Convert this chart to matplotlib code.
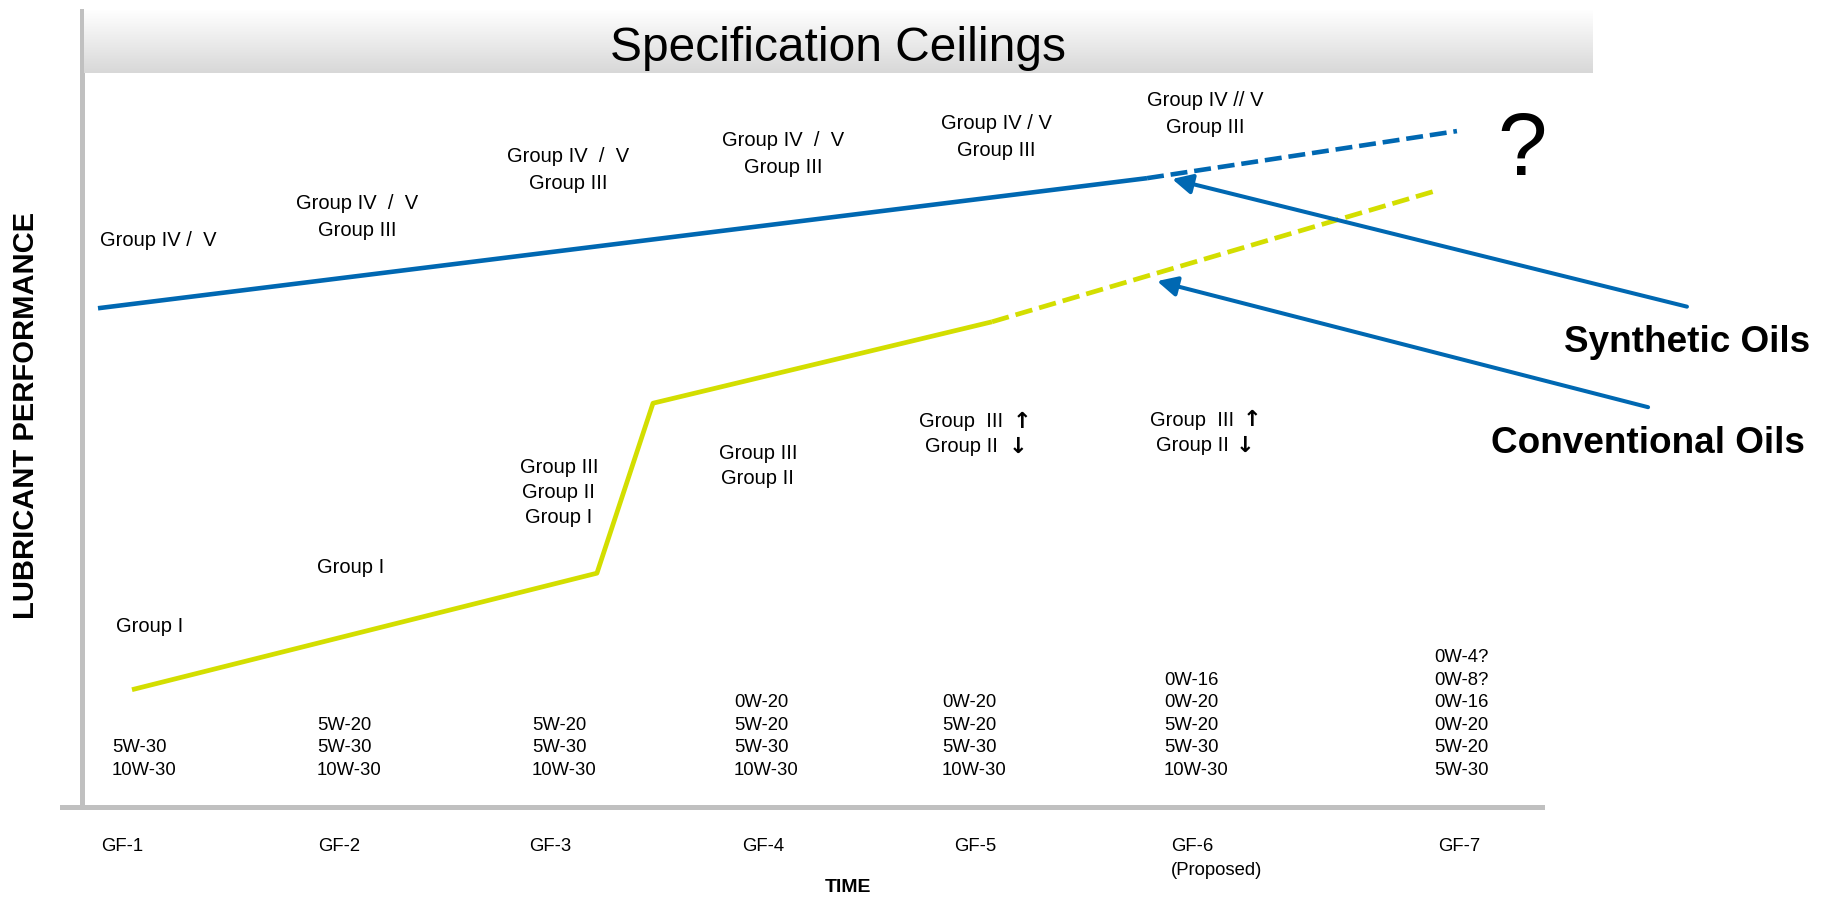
import matplotlib
matplotlib.use('Agg')
import matplotlib.pyplot as plt
import numpy as np
from matplotlib import font_manager
from matplotlib.colors import LinearSegmentedColormap

names = {f.name for f in font_manager.fontManager.ttflist}
HAS_NARROW = 'Liberation Sans Narrow' in names
NARROW = ['Liberation Sans Narrow', 'DejaVu Sans'] if HAS_NARROW else ['Liberation Sans', 'DejaVu Sans']
plt.rcParams['font.family'] = ['Liberation Sans', 'DejaVu Sans']

# ---------------- data ----------------
generations = ['GF-1', 'GF-2', 'GF-3', 'GF-4', 'GF-5', 'GF-6\n(Proposed)', 'GF-7']
gen_pos = [1.0, 2.02, 3.015, 4.02, 5.015, 6.155, 7.295]

synthetic_x = [0.887, 5.826, 7.285]
synthetic_y = [62.5, 78.8, 84.7]
synthetic_solid_n = 2          # first points drawn solid, rest dashed

conventional_x = [1.047, 3.236, 3.500, 5.096, 7.196]
conventional_y = [14.7, 29.3, 50.6, 60.8, 77.3]
conventional_solid_n = 4

ceiling_labels = ['Group IV /  V',
                  'Group IV  /  V\nGroup III',
                  'Group IV  /  V\nGroup III',
                  'Group IV  /  V\nGroup III',
                  'Group IV / V\nGroup III',
                  'Group IV // V\nGroup III']
ceiling_x = [1.169, 2.106, 3.100, 4.112, 5.115, 6.099]
ceiling_y = [71.05, 73.93, 79.82, 81.83, 83.96, 86.84]

base_labels = ['Group I', 'Group I',
               'Group III\nGroup II\nGroup I',
               'Group III\nGroup II',
               'Group  III\nGroup II',
               'Group  III\nGroup II']
base_x = [1.132, 2.078, 3.057, 3.994, 4.950, 6.038]
base_y = [22.68, 29.95, 39.35, 42.73, 46.68, 46.87]

trend_up_x = [5.238, 6.322]
trend_up_y = [48.25, 48.50]
trend_down_x = [5.218, 6.285]
trend_down_y = [45.11, 45.24]

viscosity = [['5W-30', '10W-30'],
             ['5W-20', '5W-30', '10W-30'],
             ['5W-20', '5W-30', '10W-30'],
             ['0W-20', '5W-20', '5W-30', '10W-30'],
             ['0W-20', '5W-20', '5W-30', '10W-30'],
             ['0W-16', '0W-20', '5W-20', '5W-30', '10W-30'],
             ['0W-4?', '0W-8?', '0W-16', '0W-20', '5W-20', '5W-30']]
visc_x = [0.953, 1.918, 2.930, 3.881, 4.861, 5.906, 7.177]
visc_bottom = 3.57

synthetic_arrow_from = (8.368, 62.7)
synthetic_arrow_to = (5.944, 78.7)
conventional_arrow_from = (8.185, 50.1)
conventional_arrow_to = (5.873, 65.9)

BLUE = '#0068B2'
LIME = '#D3DE00'
GRAY = '#C0C0C0'

W, H = 1835, 899
fig = plt.figure(figsize=(W / 100, H / 100), dpi=100)

def fx(px):
    return px / W

def fy(py):
    return 1 - py / H

ax = fig.add_axes([fx(62), fy(807), (1542 - 62) / W, (807 - 9) / H])
ax.set_xlim(0.7175, 7.6855)
ax.set_ylim(0, 100)
for s in ['top', 'right', 'left']:
    ax.spines[s].set_visible(False)
ax.spines['bottom'].set_color(GRAY)
ax.spines['bottom'].set_linewidth(3.6)
ax.axvline(0.8117, color=GRAY, lw=3.6, zorder=1)
ax.set_yticks([])
ax.set_xticks(gen_pos)
ax.set_xticklabels(generations, family=NARROW, fontsize=14.5 if HAS_NARROW else 13.3)
for lbl in ax.get_xticklabels():
    lbl.set_multialignment('left')
    lbl.set_linespacing(1.6)
ax.tick_params(axis='x', length=0, pad=22)

# lines
dash = (3.7, 1.5)
ax.plot(synthetic_x[:synthetic_solid_n], synthetic_y[:synthetic_solid_n], color=BLUE, lw=3.3,
        solid_capstyle='butt', zorder=3)
l, = ax.plot(synthetic_x[synthetic_solid_n - 1:], synthetic_y[synthetic_solid_n - 1:], color=BLUE, lw=3.3,
             dash_capstyle='butt', zorder=3)
l.set_dashes(dash)
ax.plot(conventional_x[:conventional_solid_n], conventional_y[:conventional_solid_n], color=LIME, lw=3.4,
        solid_capstyle='butt', solid_joinstyle='round', zorder=2)
l, = ax.plot(conventional_x[conventional_solid_n - 1:], conventional_y[conventional_solid_n - 1:], color=LIME,
             lw=3.4, dash_capstyle='butt', zorder=2)
l.set_dashes(dash)

# pointer arrows
for src, dst in [(synthetic_arrow_from, synthetic_arrow_to), (conventional_arrow_from, conventional_arrow_to)]:
    ax.annotate('', xy=dst, xytext=src, annotation_clip=False,
                arrowprops=dict(arrowstyle='-|>,head_length=0.6,head_width=0.3', color=BLUE, lw=2.9,
                                mutation_scale=20, shrinkA=0, shrinkB=0), zorder=4)

TXT = 14.5
for t, x, y in zip(ceiling_labels, ceiling_x, ceiling_y):
    ax.text(x, y, t, ha='center', va='center', fontsize=TXT, linespacing=1.5, multialignment='center')
for t, x, y in zip(base_labels, base_x, base_y):
    ax.text(x, y, t, ha='center', va='center', fontsize=TXT, linespacing=1.4, multialignment='center')
ARROW_FONT = ['DejaVu Sans']
for x, y in zip(trend_up_x, trend_up_y):
    ax.text(x, y, '\u2191', ha='center', va='center', fontsize=16, fontweight='bold', family=ARROW_FONT)
for x, y in zip(trend_down_x, trend_down_y):
    ax.text(x, y, '\u2193', ha='center', va='center', fontsize=16, fontweight='bold', family=ARROW_FONT)
for grades, x in zip(viscosity, visc_x):
    ax.text(x, visc_bottom, '\n'.join(grades), ha='left', va='bottom', fontsize=13.3, linespacing=1.42)

# title band
band = fig.add_axes([fx(84), fy(73), (1592 - 84) / W, (73 - 9) / H])
cmap = LinearSegmentedColormap.from_list('band', ['#FFFFFF', '#D8D8D8'])
band.imshow(np.linspace(0, 1, 64).reshape(-1, 1), aspect='auto', cmap=cmap, extent=(0, 1, 0, 1))
band.set_axis_off()
band.text(0.5, 0.38, 'Specification Ceilings', transform=band.transAxes, ha='center', va='center',
          family=NARROW, fontsize=38 if HAS_NARROW else 34.5)

# figure texts
fig.text(fx(26), fy(415), 'LUBRICANT PERFORMANCE', rotation=90, ha='center', va='center',
         fontsize=21, fontweight='bold')
fig.text(fx(848), fy(887), 'TIME', ha='center', va='center', family=NARROW, fontsize=14, fontweight='bold')
fig.text(fx(1564), fy(352), 'Synthetic Oils', ha='left', va='baseline', fontsize=26.6, fontweight='bold')
fig.text(fx(1491), fy(453), 'Conventional Oils', ha='left', va='baseline', fontsize=26.6, fontweight='bold')
fig.text(fx(1522), fy(175), '?', ha='center', va='baseline', fontsize=64)

fig.savefig('out.png', dpi=100)
